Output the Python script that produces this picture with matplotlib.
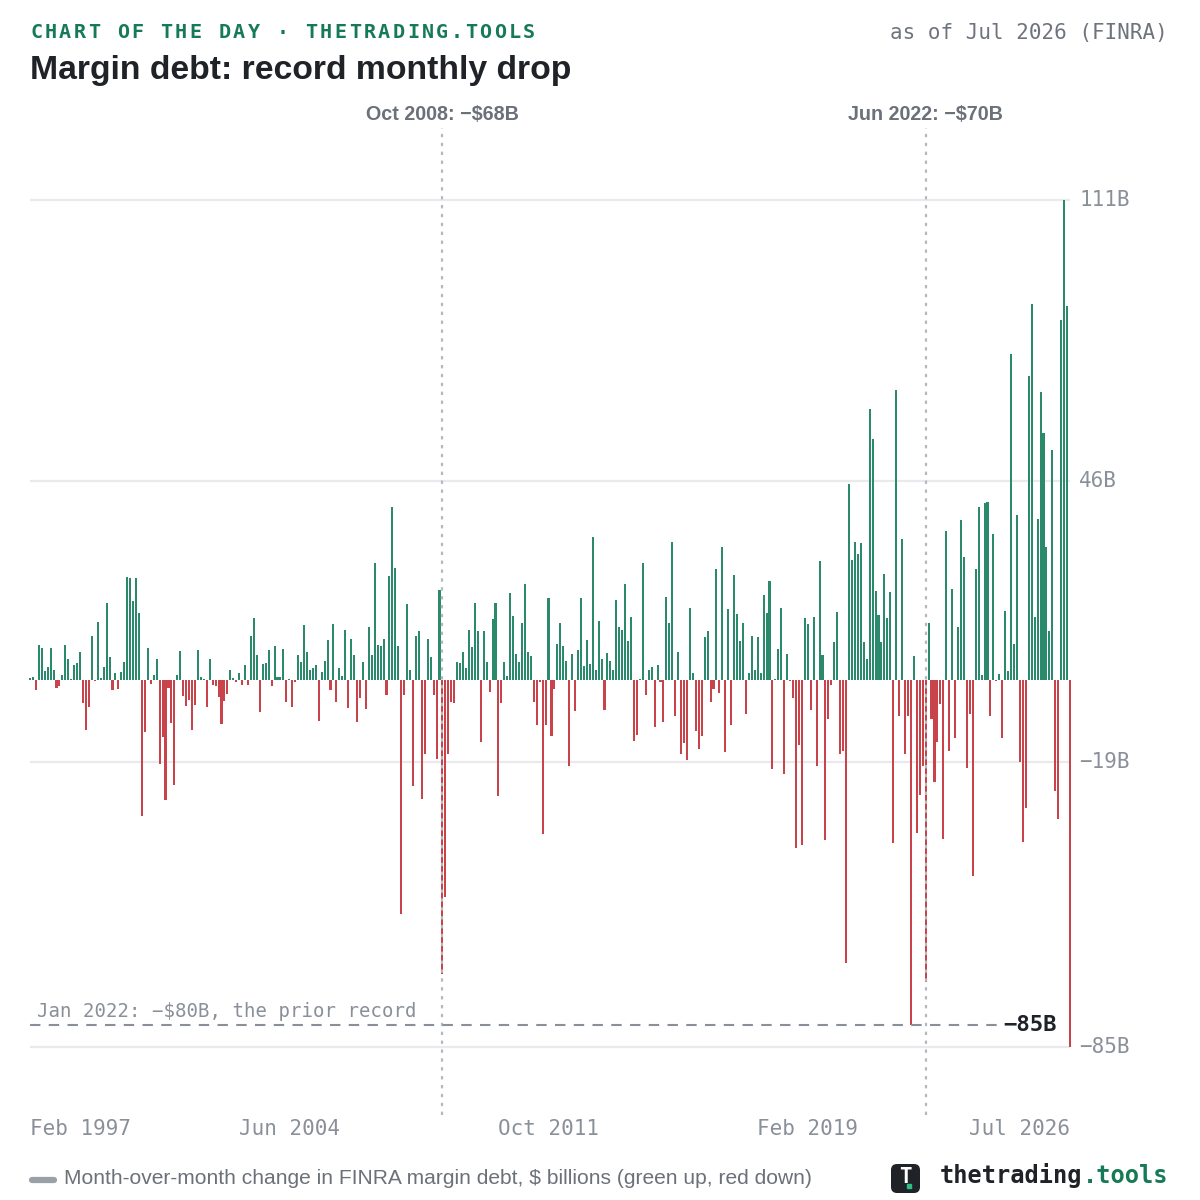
import matplotlib
matplotlib.use("Agg")
import matplotlib.pyplot as plt
from matplotlib.patches import FancyBboxPatch
import numpy as np
import pandas as pd

# ---------------- data ----------------
start_month = "1997-02"
end_month = "2026-07"
changes = [
    0.3, 0.6, -2.3, 8.0, 7.4, 1.9, 2.9, 7.3, 2.2, -2.0, -1.4, 1.1, 8.0, 4.9, 0.2, 3.4, 3.8, 6.3, -5.4, -11.6,
    -6.3, 10.0, -0.4, 13.3, 0.3, 2.9, 17.8, 5.2, -2.5, 1.5, -2.2, 1.8, 4.2, 23.8, 23.5, 18.1, 23.5, 15.4, -31.5, -12.1,
    7.3, -0.9, 1.1, 4.8, -19.4, -13.3, -27.8, -2.0, -10.0, -24.4, 1.0, 6.6, -3.8, -6.2, -4.6, -11.7, -5.9, 6.9, 0.7, 0.2,
    -6.3, 4.9, -1.2, -1.5, -4.0, -10.3, -5.0, -3.2, 2.3, 0.5, -0.5, 1.6, -1.2, 3.5, -1.3, 10.2, 14.3, 5.8, -7.5, 3.7,
    3.9, 6.9, -1.4, 7.7, 0.7, 0.7, 7.1, -5.2, 0.1, -6.3, -0.5, 5.6, 4.0, 12.7, 6.3, 2.2, 2.8, 3.4, -9.6, 1.7,
    4.4, 9.1, -2.5, 13.0, -5.1, 2.7, 0.9, 11.4, -6.5, 9.5, 5.6, -9.9, -4.3, 4.2, -6.9, 12.2, 5.6, 26.9, 8.1, 7.9,
    9.4, -3.6, 24.1, 40.0, 25.8, 7.8, -54.2, -3.6, 17.6, 2.3, -24.5, 10.2, 11.3, -27.7, -17.2, 9.3, 5.2, -3.6, -18.4, 20.8,
    -68.0, -50.3, -17.2, -5.2, -5.4, 4.2, 3.9, 6.4, 2.6, 11.6, 7.5, 17.8, 11.2, -14.4, 11.3, 4.1, -2.8, 14.1, 17.7, -27.0,
    -5.4, 4.2, 0.8, 20.1, 14.8, 5.9, 4.2, 13.2, 22.1, 6.4, 5.5, -5.1, -10.6, -0.6, -35.6, -10.6, 18.8, -13.0, -2.2, 8.3,
    13.2, 7.9, 4.3, -19.9, 5.9, -7.3, 6.9, 18.8, 3.2, 9.1, 3.6, 33.1, 2.2, 13.6, 4.7, -7.0, 6.1, 4.4, 2.3, 18.4,
    12.3, 11.4, 22.1, 9.0, 14.5, -14.2, -12.7, 0.2, 26.9, -3.5, 2.2, 2.9, -11.0, 3.5, -0.5, -9.9, 19.2, 13.2, 31.9, -8.3,
    6.3, -17.1, -14.7, -18.7, 16.7, 1.5, -11.9, -16.1, -13.0, 9.8, 11.3, -5.2, -2.2, 25.6, -3.0, 30.6, -16.8, 16.3, -10.6, 24.2,
    15.1, 9.0, 13.2, -7.9, 1.5, 10.2, 2.2, 9.8, 1.5, 19.6, 15.4, 22.9, -20.7, 0.2, 7.1, 16.7, -21.9, 5.9, -0.3, -4.3,
    -38.9, -15.1, -38.3, 14.2, 12.8, -7.1, 14.6, -20.0, 27.4, 5.7, -37.1, -9.0, -1.2, 8.8, 15.7, -17.3, -16.6, -65.6, 45.2, 27.7,
    31.9, 29.1, 31.6, 8.7, 4.9, 62.6, 55.7, 20.5, 15.0, 8.8, 24.5, 14.3, 20.4, -37.7, 67.0, -8.3, 32.5, -17.3, -8.5, -80.0,
    5.4, -35.4, -26.6, -20.0, -70.0, 13.1, -9.0, -23.7, -14.4, -5.7, -36.9, 34.4, -16.6, 21.0, -13.4, 12.1, 36.9, 28.5, -20.4, -8.0,
    -45.5, 25.5, 39.9, 1.0, 40.8, 41.1, -8.5, 33.8, -0.3, 1.3, -13.6, 15.9, 2.0, 75.4, 8.2, 38.0, -19.1, -37.6, -29.7, 70.2,
    86.9, 14.5, 37.1, 66.6, 57.1, 30.6, 11.3, 53.2, -25.7, -32.2, 83.2, 111.0, 86.4, -85.0,
]
y_ticks = [111, 46, -19, -85]
y_tick_labels = ["111B", "46B", "\u221219B", "\u221285B"]
x_tick_labels = ["Feb 1997", "Jun 2004", "Oct 2011", "Feb 2019", "Jul 2026"]
event_months = ["2008-10", "2022-06"]
event_labels = ["Oct 2008: \u2212$68B", "Jun 2022: \u2212$70B"]
prior_record_value = -80
prior_record_label = "Jan 2022: \u2212$80B, the prior record"
latest_label = "\u221285B"

months = pd.period_range(start_month, end_month, freq="M")
n = len(months)
idx = np.arange(n)
vals = np.array(changes[:n])

GREEN = "#2b8a6b"
RED = "#c9434a"
GRAY = "#8a9099"
DARK = "#1f2328"
HEAD_GREEN = "#177a56"
MONO = "DejaVu Sans Mono"
SANS = "Liberation Sans"

W = H = 1200
fig = plt.figure(figsize=(12, 12), dpi=100)
fig.patch.set_facecolor("white")

def fx(x):
    return x / W

def fy(y):
    return 1 - y / H

# axes: bar centers span px 30..1070, y 111 at px 200, -85 at px 1047
ax = fig.add_axes([fx(30), fy(1047), 1040 / W, 847 / H])
ax.set_xlim(0, n - 1)
ax.set_ylim(-85, 111)
ax.axis("off")

ax.hlines(y_ticks, 0, n - 1, color="#e9e9ee", lw=1.6, zorder=0, clip_on=False)

colors = [GREEN if v >= 0 else RED for v in vals]
ax.bar(idx, vals, width=0.7, color=colors, linewidth=0, zorder=2, clip_on=False)

# right-side tick labels
for t, lab in zip(y_ticks, y_tick_labels):
    ax.annotate(lab, xy=(1, t), xycoords=("axes fraction", "data"), xytext=(9, 0),
                textcoords="offset pixels", ha="left", va="center",
                fontsize=15, family=MONO, color=GRAY)

# event lines
y_top_px, y_bot_px = 128, 1115
ppb = 847 / 196.0
y_top = 111 + (200 - y_top_px) / ppb
y_bot = -85 - (y_bot_px - 1047) / ppb
for m, lab in zip(event_months, event_labels):
    i = months.get_loc(pd.Period(m, freq="M"))
    ax.plot([i, i], [y_bot, y_top], color="#b5b9bf", lw=1.6, ls=(0, (1.5, 2.5)),
            zorder=3, clip_on=False)
    ax.annotate(lab, xy=(i, y_top), xycoords="data", xytext=(0, 4),
                textcoords="offset pixels", ha="center", va="bottom",
                fontsize=14.2, family=SANS, weight="bold", color="#6b7079",
                annotation_clip=False)

# prior record line
x_end = 1000
x_end_d = (x_end - 30) / (1040 / (n - 1))
ax.plot([0, x_end_d], [prior_record_value, prior_record_value], color=GRAY, lw=1.5,
        ls=(0, (5, 4)), zorder=3, clip_on=False)
ax.annotate(prior_record_label, xy=(0, prior_record_value), xycoords="data",
            xytext=(7, 4), textcoords="offset pixels", ha="left", va="bottom",
            fontsize=13.7, family=MONO, color=GRAY, annotation_clip=False)
ax.annotate(latest_label, xy=(n - 1, prior_record_value), xycoords="data",
            xytext=(-13, 0), textcoords="offset pixels", ha="right", va="center",
            fontsize=16, family=MONO, weight="bold", color=DARK,
            annotation_clip=False,
            bbox=dict(boxstyle="square,pad=0.1", fc="white", ec="none"))

# x tick labels
tick_pos = [0, 88, 176, 264, n - 1]
has = ["left", "center", "center", "center", "right"]
for p, lab, ha in zip(tick_pos, x_tick_labels, has):
    ax.annotate(lab, xy=(p, -85), xycoords="data", xytext=(0, -82),
                textcoords="offset pixels", ha=ha, va="center",
                fontsize=15, family=MONO, color=GRAY, annotation_clip=False)

# header
def spaced(x, y, s, step, **kw):
    for k, ch in enumerate(s):
        fig.text(fx(x + k * step), fy(y), ch, ha="left", va="center", **kw)

spaced(30, 33, "CHART OF THE DAY \u00b7 THETRADING.TOOLS", 14.5,
       fontsize=14.5, family=MONO, weight="bold", color=HEAD_GREEN)
fig.text(fx(30), fy(70), "Margin debt: record monthly drop", ha="left", va="center",
         fontsize=24.3, family=SANS, weight="bold", color=DARK)
fig.text(fx(1168), fy(33), "as of Jul 2026 (FINRA)", ha="right", va="center",
         fontsize=15, family=MONO, color="#6f747c")

# footer legend
fig.add_artist(plt.Line2D([fx(32), fx(54)], [fy(1180), fy(1180)], color="#9aa0a8",
                          lw=4.5, solid_capstyle="round"))
fig.text(fx(64), fy(1179), "Month-over-month change in FINRA margin debt, $ billions (green up, red down)",
         ha="left", va="center", fontsize=15.1, family=SANS, color="#6b7079")

# logo
logo = FancyBboxPatch((fx(891), fy(1193)), 29 / W, 29 / H,
                      boxstyle="round,pad=0,rounding_size=0.005",
                      transform=fig.transFigure, fc=DARK, ec="none")
fig.add_artist(logo)
fig.text(fx(905.5), fy(1177), "T", ha="center", va="center", fontsize=15,
         family=MONO, weight="bold", color="white")
fig.add_artist(plt.Line2D([fx(908.5)], [fy(1186)], marker="s", ms=2.5,
                          color="#2fbf85", lw=0))
fig.text(fx(940), fy(1176), "thetrading", ha="left", va="center",
         fontsize=17, family=MONO, weight="bold", color=DARK)
fig.text(fx(940 + 10 * 14.25), fy(1176), ".tools", ha="left", va="center",
         fontsize=17, family=MONO, weight="bold", color=HEAD_GREEN)

fig.savefig("out.png", dpi=100, facecolor="white")
